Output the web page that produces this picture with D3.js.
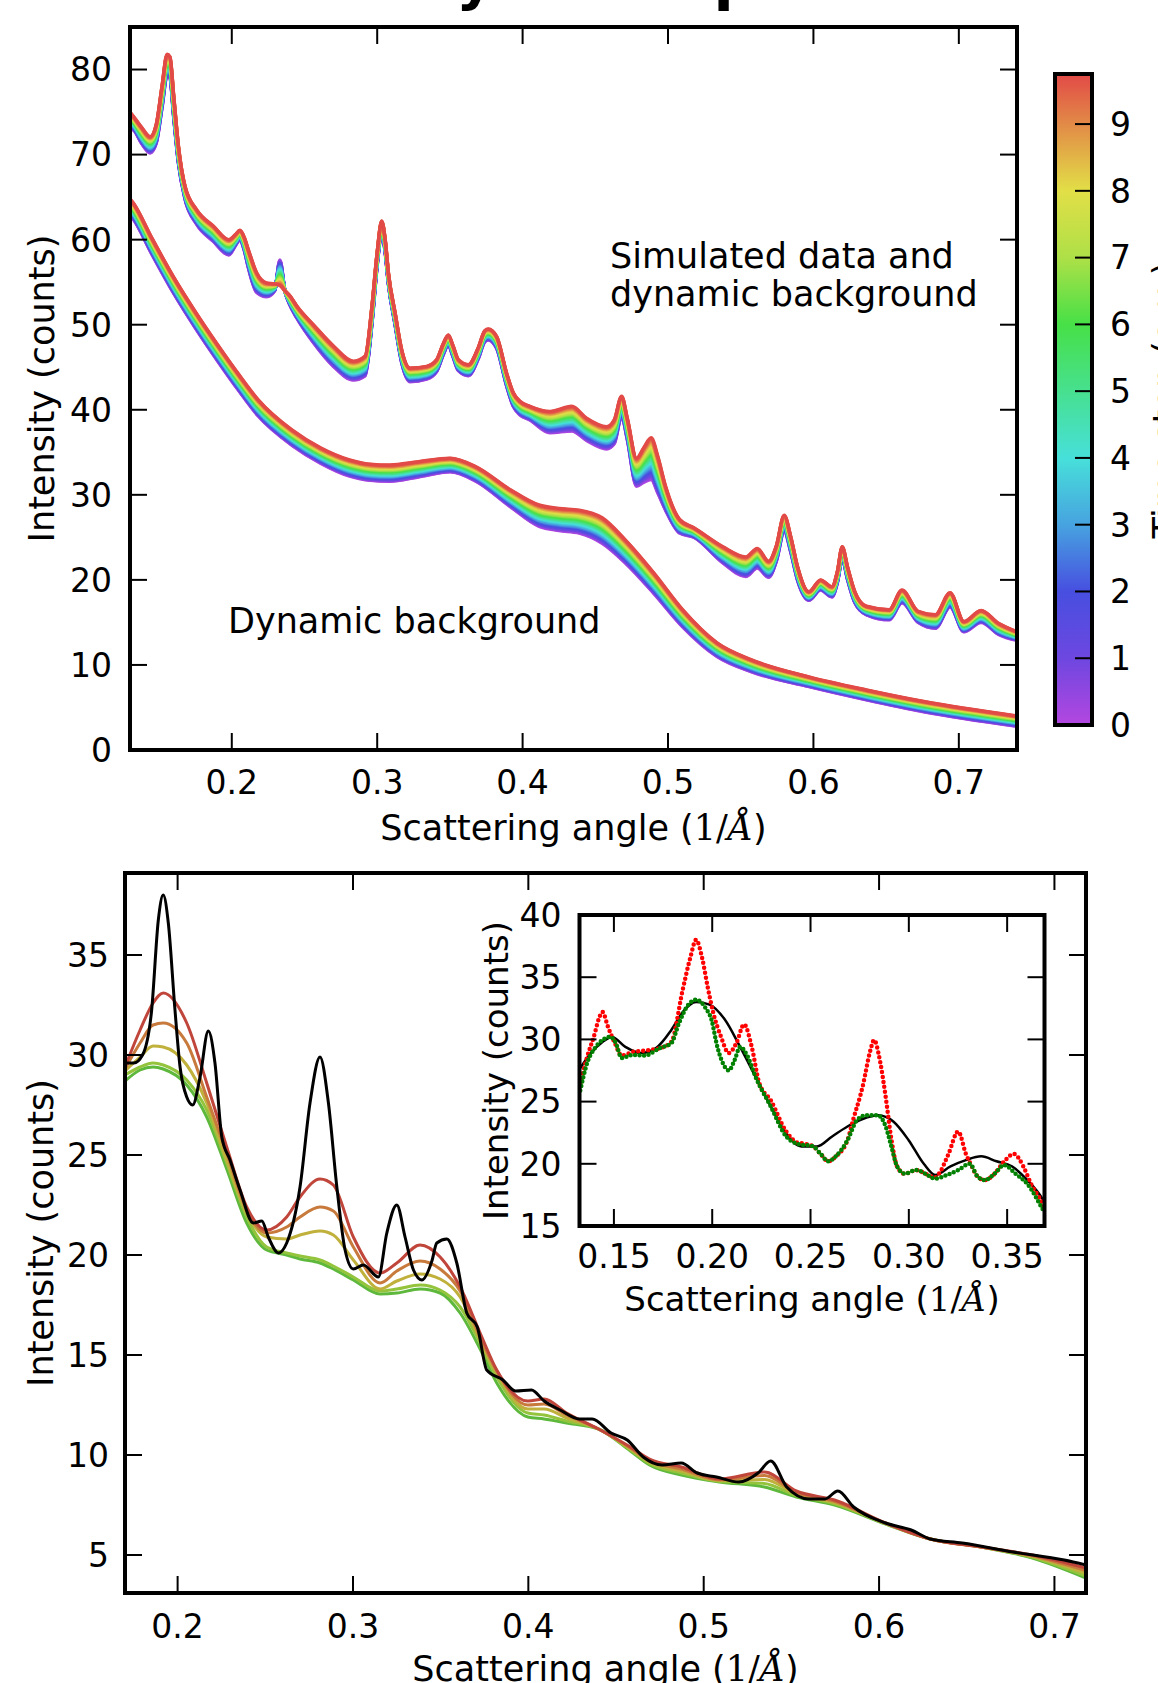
<!DOCTYPE html>
<html><head><meta charset="utf-8">
<script src="https://cdn.jsdelivr.net/npm/d3@7"></script>
<style>body{margin:0;background:#fff}svg{display:block}text{font-family:"DejaVu Sans",sans-serif;fill:#000}</style>
</head><body><svg id="c" width="1158" height="1683"></svg>
<script>
// ---------- TOP PANEL DATA ----------
const topX = [0.130,0.1323,0.138,0.1438,0.148,0.152,0.1555,0.1575,0.160,0.1633,0.1678,0.1759,0.1873,0.198,0.2025,0.2056,0.2085,0.2114,0.2171,0.224,0.2295,0.2331,0.2365,0.240,0.2447,0.2561,0.2699,0.2836,0.2917,0.2963,0.300,0.3031,0.3055,0.3077,0.3123,0.3169,0.3226,0.334,0.3409,0.3455,0.3489,0.352,0.3558,0.3627,0.3695,0.374,0.3764,0.3822,0.389,0.3936,0.3982,0.405,0.4188,0.4338,0.444,0.4578,0.463,0.4681,0.472,0.4784,0.4835,0.4884,0.493,0.4983,0.508,0.518,0.5377,0.5535,0.5614,0.5692,0.5745,0.5799,0.5845,0.589,0.5969,0.6049,0.6127,0.6165,0.6198,0.6235,0.6285,0.6364,0.6521,0.6609,0.672,0.6838,0.694,0.7035,0.7153,0.7272,0.74];
// simulated data at the last time step (red, top of the band)
const topDataLast = [75.0,74.5,73.2,72.1,73.5,78.0,81.8,81.5,77.0,71.0,66.3,63.5,61.6,60.0,60.6,61.1,60.3,58.8,56.1,54.9,54.8,54.6,54.0,53.4,52.2,50.0,47.5,45.7,46.3,52.0,58.5,62.2,60.0,56.1,51.4,47.0,44.9,45.1,45.9,47.8,48.8,47.6,45.9,45.3,47.3,49.3,49.5,48.6,44.3,42.0,41.0,40.4,39.8,40.4,39.0,38.0,38.8,41.6,39.0,34.3,35.6,36.7,34.5,31.0,27.1,26.1,23.9,22.7,23.7,22.2,24.0,27.6,25.0,21.6,18.6,20.0,19.2,21.0,23.9,21.5,18.6,16.9,16.5,18.8,16.3,15.9,18.5,15.1,16.4,14.9,13.9];
// simulated data at the first time step (violet, bottom of the band)
const topDataFirst = [73.0,72.9,71.3,70.2,71.3,75.5,79.3,79.0,74.5,69.0,64.8,61.8,59.8,58.2,59.3,60.0,58.8,56.7,53.8,53.3,54.0,57.6,54.0,52.3,50.8,47.9,45.1,43.5,44.0,50.0,57.0,60.8,58.5,54.8,50.0,45.5,43.3,43.6,44.5,46.5,47.6,46.3,44.6,44.0,46.0,48.0,48.2,47.2,42.8,40.4,39.4,38.8,37.3,37.5,36.4,35.4,36.0,39.2,36.5,31.0,31.5,31.8,30.2,28.2,25.5,25.0,22.0,20.4,21.4,20.3,22.2,25.7,23.2,20.0,17.6,18.8,18.0,19.7,22.4,20.0,17.3,15.9,15.3,17.3,15.0,14.3,16.8,13.9,15.0,13.6,12.9];
const bgX = [0.130,0.1323,0.145,0.160,0.175,0.190,0.205,0.218,0.2416,0.2613,0.281,0.295,0.3087,0.3284,0.3501,0.3679,0.3916,0.4113,0.425,0.4389,0.4547,0.4706,0.4903,0.510,0.5337,0.5574,0.5969,0.6364,0.6759,0.740];
const bgLast  = [64.8,64.3,60.2,55.6,51.5,47.7,44.1,41.2,37.6,35.5,34.1,33.6,33.5,33.9,34.3,33.3,30.6,28.8,28.4,28.2,27.3,24.7,20.8,16.5,12.6,10.6,8.6,7.06,5.7,4.0];
const bgFirst = [62.9,62.4,58.3,53.7,49.6,45.8,42.2,39.3,35.8,33.7,32.2,31.7,31.6,32.1,32.7,31.6,28.6,26.3,25.8,25.5,24.3,22.0,18.4,14.5,11.0,9.2,7.45,5.9,4.5,2.8];
const timeSteps = d3.range(0, 9.751, 0.25);
const timeMax = 9.75;
const topXTicks = [0.2,0.3,0.4,0.5,0.6,0.7];
const topYTicks = [0,10,20,30,40,50,60,70,80];
const cbTicks = [0,1,2,3,4,5,6,7,8,9];
const cmapStops  = [0,1,2,3,4,5,6,7,8,9,9.75];
const cmapColors = ["#b447e0","#6d47e0","#474fe0","#47a3e0","#47e0da","#47e08f","#47e047","#aee047","#e2df47","#e28a47","#e24a47"];

// ---------- BOTTOM PANEL DATA ----------
const obsX = [0.17,0.175,0.18,0.1852,0.189,0.1918,0.1947,0.1985,0.2014,0.2052,0.2086,0.2128,0.2175,0.2213,0.2252,0.2299,0.2356,0.2432,0.248,0.2517,0.2575,0.2622,0.2698,0.2755,0.2812,0.286,0.2908,0.2955,0.3002,0.3059,0.3145,0.3193,0.325,0.3297,0.3345,0.3393,0.345,0.3478,0.3535,0.3592,0.3649,0.3709,0.3763,0.3855,0.3927,0.4018,0.409,0.4181,0.4291,0.4364,0.4472,0.4564,0.4655,0.4763,0.4872,0.4963,0.5073,0.52,0.531,0.5382,0.5473,0.5601,0.5691,0.5765,0.5855,0.6037,0.6183,0.6292,0.6474,0.6765,0.7056,0.718];
const obsY = [29.6,29.6,30.0,32.25,36.75,38.0,36.6,32.25,29.4,27.9,27.5,28.9,31.2,29.6,25.9,24.75,23.25,21.6,21.7,20.9,20.1,20.6,23.4,27.6,29.9,27.6,23.4,20.25,19.3,19.5,18.9,21.1,22.5,20.9,19.25,18.75,19.7,20.6,20.8,19.6,17.1,16.4,14.25,13.75,13.2,13.25,12.7,12.25,11.8,11.8,11.1,10.75,9.9,9.5,9.6,9.1,8.9,8.65,9.1,9.7,8.4,7.8,7.8,8.2,7.4,6.6,6.25,5.8,5.6,5.15,4.75,4.5];
const fitX = [0.17,0.1786,0.186,0.1918,0.2052,0.2166,0.228,0.2394,0.2508,0.2622,0.2698,0.2812,0.2888,0.3002,0.3155,0.325,0.3383,0.3497,0.3611,0.3725,0.382,0.3997,0.409,0.4218,0.44,0.4582,0.4691,0.4873,0.5091,0.5346,0.5528,0.5746,0.6037,0.6292,0.6583,0.6874,0.718];
const fitRed    = [29.4,31.25,32.6,33.1,31.6,28.6,25.4,22.4,21.25,21.9,22.9,23.8,23.5,20.9,19.1,19.6,20.5,19.9,18.4,16.1,14.25,12.7,12.8,12.1,11.3,10.4,9.8,9.4,8.8,9.15,8.2,7.75,6.6,5.8,5.4,5.0,4.35];
const fitOrange = [29.3,30.6,31.5,31.6,30.6,27.9,25.1,22.25,21.1,21.4,21.9,22.4,22.2,20.4,18.6,19.2,19.7,19.3,18.2,15.9,14.2,12.5,12.55,12.0,11.3,10.35,9.72,9.3,8.76,8.97,8.12,7.68,6.59,5.8,5.4,4.96,4.22];
const fitOlive  = [29.2,29.9,30.45,30.4,29.5,27.6,24.75,22.1,20.9,20.8,21.0,21.2,21.0,19.75,18.3,18.7,19.05,18.8,17.9,15.75,14.1,12.3,12.3,11.85,11.3,10.3,9.65,9.2,8.72,8.78,8.05,7.62,6.58,5.8,5.4,4.93,4.08];
const fitLime   = [29.0,29.4,29.6,29.5,28.75,27.25,24.6,21.9,20.4,20.1,19.95,19.75,19.45,18.9,18.2,18.3,18.5,18.25,17.4,15.6,13.9,12.1,12.0,11.7,11.3,10.25,9.57,9.1,8.68,8.58,7.97,7.56,6.57,5.8,5.4,4.89,3.95];
const fitGreen  = [28.7,29.25,29.4,29.3,28.5,26.9,24.3,21.6,20.25,20.0,19.8,19.6,19.3,18.75,18.05,18.1,18.3,18.1,17.1,15.3,13.6,11.9,11.8,11.6,11.3,10.2,9.5,9.0,8.65,8.4,7.9,7.5,6.55,5.8,5.4,4.85,3.85];
const fitColors = ["#5db83c","#94c33c","#c0b03c","#c77a3c","#c0453a"];
const botXTicks = [0.2,0.3,0.4,0.5,0.6,0.7];
const botYTicks = [5,10,15,20,25,30,35];

// ---------- INSET DATA ----------
const insFitX = [0.1329,0.1383,0.1442,0.149,0.1558,0.1636,0.1714,0.1792,0.185,0.1918,0.1986,0.2064,0.2142,0.222,0.2298,0.2376,0.2454,0.2532,0.261,0.2688,0.2765,0.2843,0.2921,0.2999,0.3076,0.3134,0.3212,0.329,0.3368,0.3446,0.3524,0.3602,0.3679,0.369];
const insFitY = [27.7,28.9,29.8,30.2,29.4,28.9,29.3,30.75,32.2,33.0,32.8,31.6,29.4,27.0,24.6,22.45,21.4,21.4,22.2,23.0,23.6,23.9,23.4,21.9,20.0,19.1,19.8,20.3,20.6,20.2,19.8,18.7,17.2,16.9];
const insDataX = [0.1329,0.1364,0.1403,0.1422,0.1442,0.147,0.1505,0.1539,0.1597,0.1656,0.1734,0.1792,0.185,0.1889,0.1918,0.1948,0.1977,0.2006,0.2045,0.2084,0.2123,0.2162,0.2201,0.2239,0.2298,0.2376,0.2434,0.2474,0.2513,0.2551,0.259,0.2629,0.2688,0.2716,0.2765,0.2804,0.2823,0.2853,0.2882,0.2911,0.294,0.2979,0.3037,0.3085,0.3134,0.3153,0.3202,0.3251,0.329,0.332,0.3348,0.3387,0.3436,0.3485,0.3534,0.3582,0.3621,0.3679,0.369];
const insDataY = [26.5,28.6,30.5,31.6,32.2,31.0,29.7,28.7,29.0,29.1,29.3,29.8,34.0,36.6,38.0,36.6,34.2,32.1,30.2,28.9,29.7,31.2,29.4,26.5,25.1,22.6,21.7,21.6,21.4,20.8,20.2,20.6,21.9,23.5,26.2,29.1,29.95,28.3,25.4,22.0,19.8,19.2,19.5,19.2,18.9,19.2,20.8,22.6,20.8,19.8,19.0,18.7,19.2,20.2,20.8,19.8,18.4,16.8,16.4];
const insCorrX = [0.1329,0.1364,0.1403,0.1442,0.1481,0.151,0.1539,0.1597,0.1656,0.1734,0.1792,0.1831,0.1879,0.1918,0.1967,0.1996,0.2026,0.2064,0.2084,0.2113,0.2142,0.2181,0.222,0.2298,0.2376,0.2434,0.2513,0.2551,0.259,0.2629,0.2688,0.2736,0.2784,0.2843,0.2882,0.2911,0.294,0.2979,0.3037,0.3085,0.3134,0.3193,0.3251,0.331,0.3348,0.3387,0.3436,0.3485,0.3543,0.3602,0.3679,0.369];
const insCorrY = [25.9,28.1,29.3,29.95,30.2,29.7,28.5,28.75,28.7,29.3,29.7,31.3,32.8,33.2,32.5,31.6,29.4,27.8,27.5,28.3,29.4,28.6,27.0,24.6,22.2,21.6,21.4,20.8,20.2,20.6,21.9,23.5,23.9,23.9,23.0,21.4,19.8,19.2,19.5,19.2,18.8,19.1,19.5,20.0,19.0,18.7,19.2,19.9,19.2,18.4,16.4,16.1];
const insXTicks = [0.15,0.20,0.25,0.30,0.35];
const insYTicks = [15,20,25,30,35,40];

// ---------- DRAWING ----------
const svg = d3.select("#c");
const defs = svg.append("defs");
const cmap = d3.scaleLinear().domain(cmapStops).range(cmapColors);
const TICK = 17, FS = 35, TFS = 33;

function clip(id, x, y) {
  defs.append("clipPath").attr("id", id).append("rect")
    .attr("x", x.range()[0]).attr("y", y.range()[1])
    .attr("width", x.range()[1] - x.range()[0]).attr("height", y.range()[0] - y.range()[1]);
}

function axesFrame(g, x, y, xt, yt, o) {
  const [x0, x1] = x.range(), [y0, y1] = y.range();
  const tk = g.append("g").attr("stroke", "#000").attr("stroke-width", 2);
  xt.forEach(t => {
    tk.append("line").attr("x1", x(t)).attr("x2", x(t)).attr("y1", y0).attr("y2", y0 - TICK);
    tk.append("line").attr("x1", x(t)).attr("x2", x(t)).attr("y1", y1).attr("y2", y1 + TICK);
  });
  yt.forEach(t => {
    tk.append("line").attr("y1", y(t)).attr("y2", y(t)).attr("x1", x0).attr("x2", x0 + TICK);
    tk.append("line").attr("y1", y(t)).attr("y2", y(t)).attr("x1", x1).attr("x2", x1 - TICK);
  });
  g.append("rect").attr("x", x0).attr("y", y1).attr("width", x1 - x0).attr("height", y0 - y1)
    .attr("fill", "none").attr("stroke", "#000").attr("stroke-width", 4);
  xt.forEach(t => g.append("text").attr("x", x(t)).attr("y", y0 + o.xlab)
    .attr("text-anchor", "middle").attr("font-size", TFS).text(o.xfmt(t)));
  yt.forEach(t => g.append("text").attr("x", x0 - o.ylab).attr("y", y(t)).attr("dy", "0.36em")
    .attr("text-anchor", "end").attr("font-size", TFS).text(o.yfmt(t)));
  const xl = g.append("text").attr("x", (x0 + x1) / 2).attr("y", o.xTitleY)
    .attr("text-anchor", "middle").attr("font-size", o.fs || FS);
  xl.append("tspan").text("Scattering angle (");
  xl.append("tspan").attr("font-family", "DejaVu Serif").text("1/");
  xl.append("tspan").attr("font-family", "DejaVu Serif").attr("font-style", "italic").text("Å");
  xl.append("tspan").text(")");
  g.append("text").attr("transform", `translate(${o.yTitleX},${(y0 + y1) / 2}) rotate(-90)`)
    .attr("text-anchor", "middle").attr("font-size", o.fs || FS).text("Intensity (counts)");
}

const fmt1 = d3.format(".1f"), fmt2 = d3.format(".2f"), fmt0 = d3.format("d");

// title (mostly above the visible area)
svg.append("text").attr("x", 407).attr("y", -1).attr("font-size", 59).attr("font-weight", "bold")
  .text("Dynamic peaks");

// ---- top panel ----
const xT = d3.scaleLinear().domain([0.13, 0.74]).range([130, 1017]);
const yT = d3.scaleLinear().domain([0, 85]).range([750, 27]);
clip("clipT", xT, yT);
const gT = svg.append("g");
const lineT = d3.line().x(d => xT(d[0])).y(d => yT(d[1])).curve(d3.curveMonotoneX);
const gTL = gT.append("g").attr("clip-path", "url(#clipT)");
function band(xs, first, last) {
  timeSteps.forEach(t => {
    const f = t / timeMax;
    const pts = xs.map((xv, i) => [xv, first[i] + (last[i] - first[i]) * f]);
    gTL.append("path").attr("d", lineT(pts)).attr("fill", "none")
      .attr("stroke", cmap(t)).attr("stroke-width", 3.5).attr("stroke-linejoin", "round");
  });
}
band(bgX, bgFirst, bgLast);
band(topX, topDataFirst, topDataLast);
gT.append("text").attr("x", 610).attr("y", 268).attr("font-size", FS).text("Simulated data and");
gT.append("text").attr("x", 610).attr("y", 306).attr("font-size", FS).text("dynamic background");
gT.append("text").attr("x", 228).attr("y", 633).attr("font-size", FS).text("Dynamic background");
axesFrame(gT, xT, yT, topXTicks, topYTicks, {xlab: 44, ylab: 18, xfmt: fmt1, yfmt: fmt0, xTitleY: 840, yTitleX: 54});

// ---- colorbar ----
const yC = d3.scaleLinear().domain([0, timeMax]).range([725, 74]);
const grad = defs.append("linearGradient").attr("id", "cbg").attr("x1", 0).attr("x2", 0).attr("y1", 1).attr("y2", 0);
cmapStops.forEach((s, i) => grad.append("stop").attr("offset", s / timeMax).attr("stop-color", cmapColors[i]));
const gC = svg.append("g");
gC.append("rect").attr("x", 1055).attr("y", 74).attr("width", 37).attr("height", 651).attr("fill", "url(#cbg)");
cbTicks.forEach(t => {
  gC.append("line").attr("x1", 1075).attr("x2", 1092).attr("y1", yC(t)).attr("y2", yC(t))
    .attr("stroke", "#000").attr("stroke-width", 2);
  gC.append("text").attr("x", 1110).attr("y", yC(t)).attr("dy", "0.36em").attr("font-size", TFS).text(t);
});
gC.append("rect").attr("x", 1055).attr("y", 74).attr("width", 37).attr("height", 651)
  .attr("fill", "none").attr("stroke", "#000").attr("stroke-width", 4);
gC.append("text").attr("transform", `translate(1178,400) rotate(-90)`).attr("text-anchor", "middle")
  .attr("font-size", FS).text("Time step (a.u.)");

// ---- bottom panel ----
const xB = d3.scaleLinear().domain([0.17, 0.718]).range([125, 1086]);
const yB = d3.scaleLinear().domain([3.1, 39.1]).range([1593, 873]);
clip("clipB", xB, yB);
const gB = svg.append("g");
const gBL = gB.append("g").attr("clip-path", "url(#clipB)");
const lineB = d3.line().x(d => xB(d[0])).y(d => yB(d[1])).curve(d3.curveMonotoneX);
[fitGreen, fitLime, fitOlive, fitOrange, fitRed].forEach((s, k) => {
  gBL.append("path").attr("d", lineB(fitX.map((xv, i) => [xv, s[i]]))).attr("fill", "none")
    .attr("stroke", fitColors[k]).attr("stroke-width", 3);
});
gBL.append("path").attr("d", lineB(obsX.map((xv, i) => [xv, obsY[i]]))).attr("fill", "none")
  .attr("stroke", "#000").attr("stroke-width", 3);
axesFrame(gB, xB, yB, botXTicks, botYTicks, {xlab: 45, ylab: 16, xfmt: fmt1, yfmt: fmt0, xTitleY: 1681, yTitleX: 53});

// ---- inset ----
const xI = d3.scaleLinear().domain([0.1325, 0.369]).range([579.5, 1044.5]);
const yI = d3.scaleLinear().domain([15, 40]).range([1226, 915]);
clip("clipI", xI, yI);
const gI = svg.append("g");
gI.append("rect").attr("x", 579.5).attr("y", 915).attr("width", 465).attr("height", 311).attr("fill", "#fff");
const gIL = gI.append("g").attr("clip-path", "url(#clipI)");
const lineI = d3.line().x(d => xI(d[0])).y(d => yI(d[1])).curve(d3.curveMonotoneX);
gIL.append("path").attr("d", lineI(insFitX.map((xv, i) => [xv, insFitY[i]]))).attr("fill", "none")
  .attr("stroke", "#000").attr("stroke-width", 2.5);
gIL.append("path").attr("d", lineI(insDataX.map((xv, i) => [xv, insDataY[i]]))).attr("fill", "none")
  .attr("stroke", "#ff0000").attr("stroke-width", 4.5).attr("stroke-linecap", "round").attr("stroke-dasharray", "0 5");
gIL.append("path").attr("d", lineI(insCorrX.map((xv, i) => [xv, insCorrY[i]]))).attr("fill", "none")
  .attr("stroke", "#008000").attr("stroke-width", 4.5).attr("stroke-linecap", "round").attr("stroke-dasharray", "0 4.5");
axesFrame(gI, xI, yI, insXTicks, insYTicks, {xlab: 42, ylab: 18, xfmt: fmt2, yfmt: fmt0, xTitleY: 1311, yTitleX: 508, fs: 34});
</script></body></html>
